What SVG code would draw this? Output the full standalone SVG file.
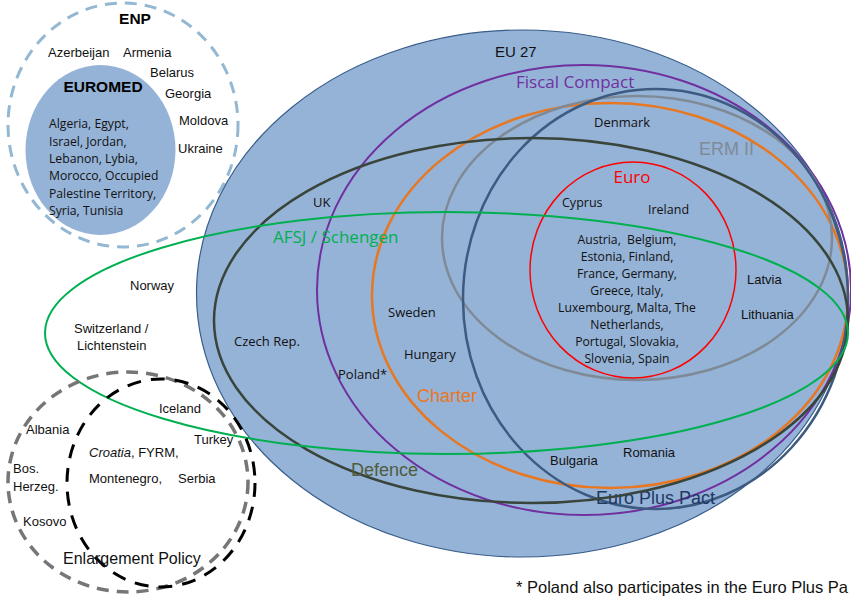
<svg xmlns="http://www.w3.org/2000/svg" width="851" height="596" viewBox="0 0 851 596">
<style>
.a{font-family:"Liberation Sans",Arial,sans-serif;font-size:13px;fill:#111}
.m{font-family:"Open Sans","Liberation Sans",sans-serif;font-size:13px;fill:#111}
.ml{font-family:"Open Sans","Liberation Sans",sans-serif;font-size:12.2px;fill:#111}
.big{font-family:"Liberation Sans",Arial,sans-serif;font-size:18px}
.bigm{font-family:"Open Sans","Liberation Sans",sans-serif;font-size:17px}
.b{font-family:"Liberation Sans",Arial,sans-serif;font-weight:bold;font-size:15.5px;fill:#000}
.set{fill:none}
</style>
<rect width="851" height="596" fill="#fff"/>
<g id="enp">
<ellipse cx="123" cy="125" rx="115" ry="122" fill="none" stroke="#93b8d3" stroke-width="3" stroke-dasharray="12 8"/>
<text class="b" x="135" y="24" text-anchor="middle">ENP</text>
<text class="a" x="48" y="57">Azerbeijan</text>
<text class="a" x="123" y="57">Armenia</text>
<text class="a" x="150" y="77">Belarus</text>
<text class="a" x="165" y="98">Georgia</text>
<text class="a" x="179" y="125">Moldova</text>
<text class="a" x="178" y="153">Ukraine</text>
</g>
<g id="euromed">
<ellipse cx="100.5" cy="150" rx="75" ry="85" fill="#95b3d7"/>
<text class="b" x="103" y="92" text-anchor="middle">EUROMED</text>
<text class="ml" x="49" y="128">Algeria, Egypt,</text>
<text class="ml" x="49" y="146">Israel, Jordan,</text>
<text class="ml" x="49" y="163">Lebanon, Lybia,</text>
<text class="ml" x="49" y="180">Morocco, Occupied</text>
<text class="ml" x="49" y="198">Palestine Territory,</text>
<text class="ml" x="49" y="215">Syria, Tunisia</text>
</g>
<g id="eu27">
<ellipse cx="522.5" cy="293.5" rx="326" ry="263.5" fill="#95b3d7" stroke="#385d8a" stroke-width="1.2"/>
<text class="a" x="495" y="57" style="font-size:15px">EU 27</text>
</g>
<g id="fiscal-compact">
<ellipse class="set" cx="584" cy="290" rx="267" ry="225" stroke="#7030a0" stroke-width="2"/>
<text class="bigm" x="516" y="88" fill="#7030a0">Fiscal Compact</text>
</g>
<g id="charter">
<ellipse class="set" cx="610" cy="295.5" rx="238" ry="192.5" stroke="#e87722" stroke-width="2.5"/>
<text class="big" x="417" y="402" fill="#e87722">Charter</text>
</g>
<g id="erm2">
<ellipse class="set" cx="637" cy="238" rx="195" ry="142" stroke="#7f8a96" stroke-width="2.5"/>
<text class="big" x="699" y="155" fill="#7f8a96">ERM II</text>
</g>
<g id="euro-plus-pact">
<ellipse class="set" cx="655.5" cy="299" rx="192.5" ry="210" stroke="#3d5a80" stroke-width="2.5"/>
<text class="big" x="596" y="504" fill="#1f3864">Euro Plus Pact</text>
</g>
<g id="defence">
<ellipse class="set" cx="531" cy="320.5" rx="317" ry="182.5" stroke="#39443a" stroke-width="2.5"/>
<text class="big" x="351" y="476" fill="#4f5b3c">Defence</text>
</g>
<g id="euro">
<ellipse class="set" cx="633" cy="270" rx="103" ry="108" stroke="#ff0000" stroke-width="1.5"/>
<text class="bigm" x="632" y="183" fill="#ff0000" text-anchor="middle">Euro</text>
</g>
<g id="schengen">
<ellipse class="set" cx="446.5" cy="333" rx="401.5" ry="121" stroke="#00b050" stroke-width="2"/>
<text class="bigm" x="273" y="243" fill="#00b050">AFSJ / Schengen</text>
</g>
<g id="enlargement">
<ellipse class="set" cx="128" cy="482" rx="120" ry="110" stroke="#767676" stroke-width="3.5" stroke-dasharray="12 8"/>
<ellipse class="set" cx="161" cy="483" rx="94" ry="104" stroke="#000" stroke-width="3" stroke-dasharray="14 10"/>
<text class="a" x="159" y="413">Iceland</text>
<text class="a" x="26" y="434">Albania</text>
<text class="a" x="194" y="444">Turkey</text>
<text class="a" x="89" y="457"><tspan font-style="italic">Croatia</tspan>, FYRM,</text>
<text class="a" x="13" y="473">Bos.</text>
<text class="a" x="13" y="491">Herzeg.</text>
<text class="a" x="89" y="483">Montenegro,</text>
<text class="a" x="178" y="483">Serbia</text>
<text class="a" x="23" y="526">Kosovo</text>
<text class="a" x="63" y="564" style="font-size:16px">Enlargement Policy</text>
</g>
<g id="countries">
<text class="a" x="130" y="290">Norway</text>
<text class="a" x="74" y="333">Switzerland /</text>
<text class="a" x="77" y="350">Lichtenstein</text>
<text class="m" x="313" y="207">UK</text>
<text class="m" x="234" y="346">Czech Rep.</text>
<text class="m" x="388" y="317">Sweden</text>
<text class="m" x="404" y="359">Hungary</text>
<text class="m" x="338" y="379">Poland*</text>
<text class="m" x="594" y="127">Denmark</text>
<text class="m" x="562" y="207" style="font-size:12.5px">Cyprus</text>
<text class="m" x="648" y="214" style="font-size:12.5px">Ireland</text>
<g class="ml" text-anchor="middle">
<text x="627" y="244" xml:space="preserve">Austria,  Belgium,</text>
<text x="627" y="261">Estonia, Finland,</text>
<text x="627" y="278">France, Germany,</text>
<text x="627" y="295">Greece, Italy,</text>
<text x="627" y="312">Luxembourg, Malta, The</text>
<text x="627" y="329">Netherlands,</text>
<text x="627" y="346">Portugal, Slovakia,</text>
<text x="627" y="363">Slovenia, Spain</text>
</g>
<text class="a" x="747" y="284">Latvia</text>
<text class="a" x="741" y="319">Lithuania</text>
<text class="a" x="550" y="465">Bulgaria</text>
<text class="a" x="623" y="457">Romania</text>
</g>
<text class="a" x="516" y="593" style="font-size:16.5px">* Poland also participates in the Euro Plus Pa</text>
</svg>
